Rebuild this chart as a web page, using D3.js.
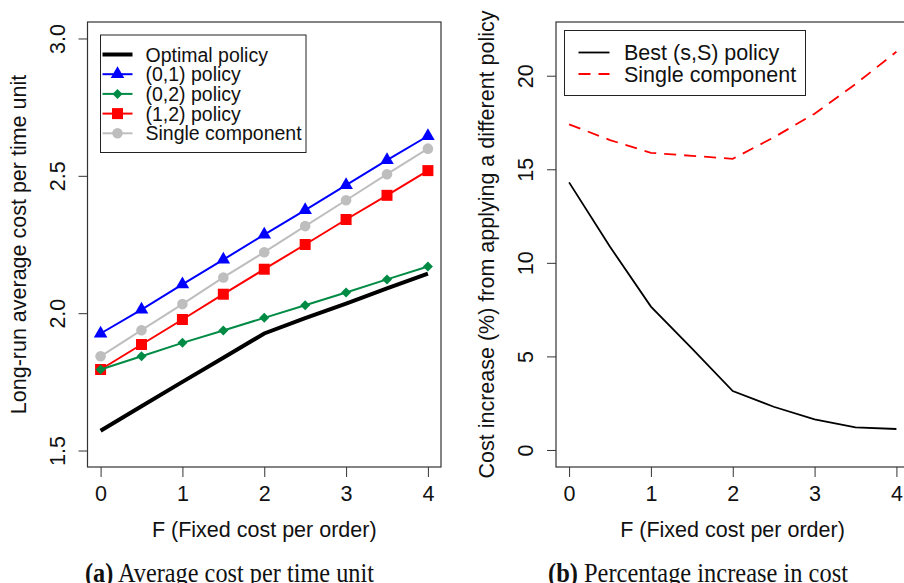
<!DOCTYPE html>
<html>
<head>
<meta charset="utf-8">
<script src="https://cdn.jsdelivr.net/npm/d3@7"></script>
<style>
  body { margin: 0; background: #fff; }
  text { font-family: "Liberation Sans", Arial, sans-serif; fill: #111; }
  .caption text { font-family: "Liberation Serif", "Times New Roman", serif; }
</style>
</head>
<body>
<div id="target"></div>
<script>
// data
let fixedCost = [0, 0.5, 1, 1.5, 2, 2.5, 3, 3.5, 4];
let optimalCost = [1.572, 1.661, 1.750, 1.838, 1.926, 1.982, 2.035, 2.090, 2.144];
let policy01 = [1.926, 2.013, 2.105, 2.195, 2.286, 2.375, 2.466, 2.557, 2.645];
let policy02 = [1.795, 1.843, 1.892, 1.937, 1.983, 2.029, 2.075, 2.123, 2.170];
let policy12 = [1.795, 1.886, 1.977, 2.069, 2.160, 2.250, 2.341, 2.429, 2.519];
let singleComp = [1.843, 1.938, 2.033, 2.130, 2.222, 2.317, 2.411, 2.506, 2.599];

let bestSSIncrease = [14.30, 10.86, 7.66, 5.43, 3.15, 2.31, 1.64, 1.21, 1.12];
let singleIncrease = [17.40, 16.56, 15.88, 15.72, 15.56, 16.70, 17.97, 19.55, 21.28];

let xTicks = [0, 1, 2, 3, 4];
let yTicksA = [1.5, 2.0, 2.5, 3.0];
let yTicksB = [0, 5, 10, 15, 20];

let width = 904,
  height = 583;

let svg = d3.select("#target").append("svg")
  .attr("width", width)
  .attr("height", height);

function drawAxes(g, x, y, yTicks, yFmt, xLabel, yLabel, box) {
  let xAxis = d3.axisBottom(x).tickValues(xTicks).tickSize(10).tickPadding(9).tickFormat(d3.format("d"));
  let yAxis = d3.axisLeft(y).tickValues(yTicks).tickSize(9).tickFormat(yFmt);

  g.append("g")
    .attr("transform", "translate(0," + box.bottom + ")")
    .call(xAxis)
    .call(a => a.select(".domain").remove())
    .selectAll("text")
    .style("font-size", "21.5px")
    .attr("dy", "0.71em");

  g.append("g")
    .attr("transform", "translate(" + box.left + ",0)")
    .call(yAxis)
    .call(a => a.select(".domain").remove())
    .selectAll("text")
    .attr("transform", "rotate(-90)")
    .attr("x", 0)
    .attr("y", -23)
    .attr("dy", 0)
    .style("text-anchor", "middle")
    .style("font-size", "21.5px");

  g.selectAll(".tick line").attr("stroke", "#333");

  g.append("rect")
    .attr("x", box.left)
    .attr("y", box.top)
    .attr("width", box.right - box.left)
    .attr("height", box.bottom - box.top)
    .attr("fill", "none")
    .attr("stroke", "#333")
    .attr("stroke-width", 1.2);

  g.append("text")
    .attr("x", (box.left + Math.min(box.right, 909)) / 2)
    .attr("y", 537)
    .style("text-anchor", "middle")
    .style("font-size", "21.5px")
    .text(xLabel);

  g.append("text")
    .attr("transform", "translate(" + (box.left - 62) + "," + ((box.top + box.bottom) / 2) + ") rotate(-90)")
    .style("text-anchor", "middle")
    .style("font-size", "21.5px")
    .text(yLabel);
}

// ---- panel (a) ----
let boxA = { left: 87.5, right: 441, top: 22, bottom: 467 };
let xA = d3.scaleLinear().domain([-0.16, 4.16]).range([boxA.left, boxA.right]);
let yA = d3.scaleLinear().domain([1.44, 3.06]).range([boxA.bottom, boxA.top]);
let gA = svg.append("g");

drawAxes(gA, xA, yA, yTicksA, d3.format(".1f"),
  "F (Fixed cost per order)", "Long-run average cost per time unit", boxA);

let seriesA = [
  { name: "Optimal policy", values: optimalCost, color: "#000000", width: 4, symbol: null },
  { name: "(0,1) policy", values: policy01, color: "#0000ff", width: 2, symbol: d3.symbolTriangle, size: 80, rot: 0 },
  { name: "(0,2) policy", values: policy02, color: "#008b45", width: 2, symbol: d3.symbolSquare, size: 50, rot: 45 },
  { name: "(1,2) policy", values: policy12, color: "#ff0000", width: 2, symbol: d3.symbolSquare, size: 121, rot: 0 },
  { name: "Single component", values: singleComp, color: "#bebebe", width: 2, symbol: d3.symbolCircle, size: 88, rot: 0 }
];

let lineA = d3.line()
  .x((d, i) => xA(fixedCost[i]))
  .y(d => yA(d));

// draw in reverse so optimal ends up underneath the coloured lines like the original
seriesA.slice().reverse().forEach(s => {
  gA.append("path")
    .datum(s.values)
    .attr("fill", "none")
    .attr("stroke", s.color)
    .attr("stroke-width", s.width)
    .attr("d", lineA);
  if (s.symbol) {
    gA.selectAll(null)
      .data(s.values)
      .enter().append("path")
      .attr("d", d3.symbol().type(s.symbol).size(s.size))
      .attr("fill", s.color)
      .attr("transform", (d, i) => "translate(" + xA(fixedCost[i]) + "," + yA(d) + ") rotate(" + s.rot + ")");
  }
});

// legend (a)
let legA = gA.append("g").attr("transform", "translate(100.5,35)");
legA.append("rect")
  .attr("width", 205.5)
  .attr("height", 117.5)
  .attr("fill", "#fff")
  .attr("stroke", "#222")
  .attr("stroke-width", 1);
seriesA.forEach((s, i) => {
  let cy = 19.5 + i * 19.7;
  legA.append("line")
    .attr("x1", 2).attr("x2", 32)
    .attr("y1", cy).attr("y2", cy)
    .attr("stroke", s.color)
    .attr("stroke-width", s.width);
  if (s.symbol) {
    legA.append("path")
      .attr("d", d3.symbol().type(s.symbol).size(s.size))
      .attr("fill", s.color)
      .attr("transform", "translate(17," + cy + ") rotate(" + s.rot + ")");
  }
  legA.append("text")
    .attr("x", 45)
    .attr("y", cy + 7)
    .style("font-size", "19.5px")
    .text(s.name);
});

// ---- panel (b) ----
let boxB = { left: 556, right: 909.5, top: 22, bottom: 467 };
let xB = d3.scaleLinear().domain([-0.16, 4.16]).range([boxB.left, boxB.right]);
let yB = d3.scaleLinear().domain([-0.91, 22.87]).range([boxB.bottom, boxB.top]);
let gB = svg.append("g");

drawAxes(gB, xB, yB, yTicksB, d3.format("d"),
  "F (Fixed cost per order)", "Cost increase (%) from applying a different policy", boxB);

let lineB = d3.line()
  .x((d, i) => xB(fixedCost[i]))
  .y(d => yB(d));

let seriesB = [
  { name: "Best (s,S) policy", values: bestSSIncrease, color: "#000000", dash: null },
  { name: "Single component", values: singleIncrease, color: "#ff0000", dash: "12,8" }
];

seriesB.forEach(s => {
  gB.append("path")
    .datum(s.values)
    .attr("fill", "none")
    .attr("stroke", s.color)
    .attr("stroke-width", 1.8)
    .attr("stroke-dasharray", s.dash)
    .attr("d", lineB);
});

let legB = gB.append("g").attr("transform", "translate(564.5,30.5)");
legB.append("rect")
  .attr("width", 241)
  .attr("height", 65)
  .attr("fill", "#fff")
  .attr("stroke", "#222")
  .attr("stroke-width", 1);
seriesB.forEach((s, i) => {
  let cy = 22 + i * 21.5;
  legB.append("line")
    .attr("x1", 14).attr("x2", 45)
    .attr("y1", cy).attr("y2", cy)
    .attr("stroke", s.color)
    .attr("stroke-width", 1.8)
    .attr("stroke-dasharray", s.dash);
  legB.append("text")
    .attr("x", 59.5)
    .attr("y", cy + 7.5)
    .style("font-size", "21.5px")
    .text(s.name);
});

// captions
let cap = svg.append("g").attr("class", "caption");
let capA = cap.append("text").attr("x", 85).attr("y", 582)
  .attr("textLength", 289).attr("lengthAdjust", "spacingAndGlyphs")
  .style("font-size", "27px");
capA.append("tspan").style("font-weight", "bold").text("(a)");
capA.append("tspan").text(" Average cost per time unit");
let capB = cap.append("text").attr("x", 548).attr("y", 582)
  .attr("textLength", 300).attr("lengthAdjust", "spacingAndGlyphs")
  .style("font-size", "27px");
capB.append("tspan").style("font-weight", "bold").text("(b)");
capB.append("tspan").text(" Percentage increase in cost");
</script>
</body>
</html>
